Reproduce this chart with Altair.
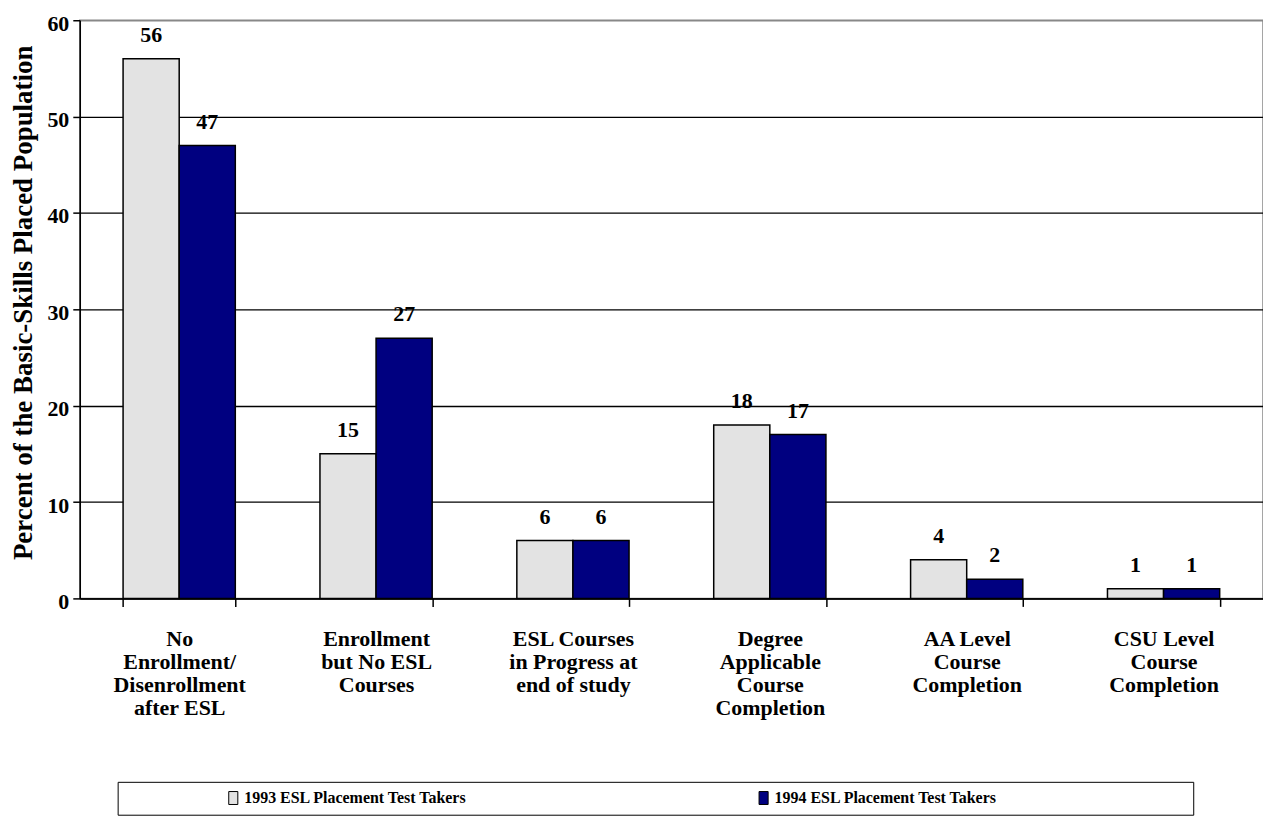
import altair as alt
import pandas as pd

categories = [
    "No|Enrollment/|Disenrollment|after ESL",
    "Enrollment|but No ESL|Courses",
    "ESL Courses|in Progress at|end of study",
    "Degree|Applicable|Course|Completion",
    "AA Level|Course|Completion",
    "CSU Level|Course|Completion",
]
series = ["1993 ESL Placement Test Takers", "1994 ESL Placement Test Takers"]
v1993 = [56, 15, 6, 18, 4, 1]
v1994 = [47, 27, 6, 17, 2, 1]
colors = ["#E3E3E3", "#000080"]

rows = []
for c, a, b in zip(categories, v1993, v1994):
    rows.append({"category": c, "series": series[0], "value": a})
    rows.append({"category": c, "series": series[1], "value": b})
df = pd.DataFrame(rows)

FONT = "Liberation Serif"

x = alt.X(
    "category:N",
    sort=categories,
    scale=alt.Scale(paddingInner=0.43, paddingOuter=0.22),
    axis=alt.Axis(
        title=None,
        labelAngle=0,
        labelExpr="split(datum.label, '|')",
        tickBand="extent",
        ticks=True,
        tickSize=8,
        tickColor="black",
        tickWidth=1.5,
        domainColor="black",
        domainWidth=1.5,
        labelPadding=22,
        labelBaseline="top",
        labelLineHeight=23,
        labelFont=FONT,
        labelFontSize=22,
        labelFontWeight="bold",
        labelColor="black",
        labelLimit=400,
        grid=False,
    ),
)
xo = alt.XOffset("series:N", sort=series)
y = alt.Y(
    "value:Q",
    scale=alt.Scale(domain=[0, 60], nice=False),
    axis=alt.Axis(
        title="Percent of the Basic-Skills Placed Population",
        values=[0, 10, 20, 30, 40, 50, 60],
        grid=True,
        gridColor={"condition": {"test": "datum.value >= 60", "value": "#888888"}, "value": "black"},
        gridWidth=1.3,
        domainColor="black",
        domainWidth=1.5,
        tickColor="black",
        tickSize=7,
        tickWidth=1.5,
        labelPadding=4,
        labelOffset=3,
        labelFont=FONT,
        labelFontSize=22,
        labelFontWeight="bold",
        labelColor="black",
        titleFont=FONT,
        titleFontSize=27,
        titleFontWeight="bold",
        titleColor="black",
        titleAngle=270,
        titleX=-56,
        titleY=283,
        titleAlign="center",
        titleBaseline="middle",
    ),
)
color = alt.Color(
    "series:N",
    sort=series,
    scale=alt.Scale(domain=series, range=colors),
    legend=alt.Legend(
        title=" ",
        titleOrient="right",
        titlePadding=188,
        orient="none",
        legendX=38,
        legendY=764,
        direction="horizontal",
        strokeColor="black",
        padding=8,
        columnPadding=189,
        symbolType="M-0.7,-1H0.7V1H-0.7Z",
        symbolSize=169,
        symbolOffset=100,
        symbolStrokeColor="black",
        symbolStrokeWidth=1,
        labelFont=FONT,
        labelFontSize=16,
        labelFontWeight="bold",
        labelColor="black",
        labelOffset=3,
        labelLimit=400,
    ),
)

bars = alt.Chart(df).mark_bar(stroke="black", strokeWidth=1.5).encode(
    x=x, xOffset=xo, y=y, color=color
)
labels = alt.Chart(df).mark_text(
    dy=-17, baseline="alphabetic", font=FONT, fontSize=22, fontWeight="bold", color="black"
).encode(x=x, xOffset=xo, y=y, text="value:Q")

chart = (
    alt.layer(bars, labels)
    .properties(
        width=1187,
        height=580,
        autosize=alt.AutoSizeParams(type="none"),
        padding={"left": 72, "top": 11, "right": 0, "bottom": 217},
    )
    .configure_view(stroke="#888888", strokeWidth=1.5)
)

chart.save("out.html", embed_options={"renderer": "svg", "actions": False})
